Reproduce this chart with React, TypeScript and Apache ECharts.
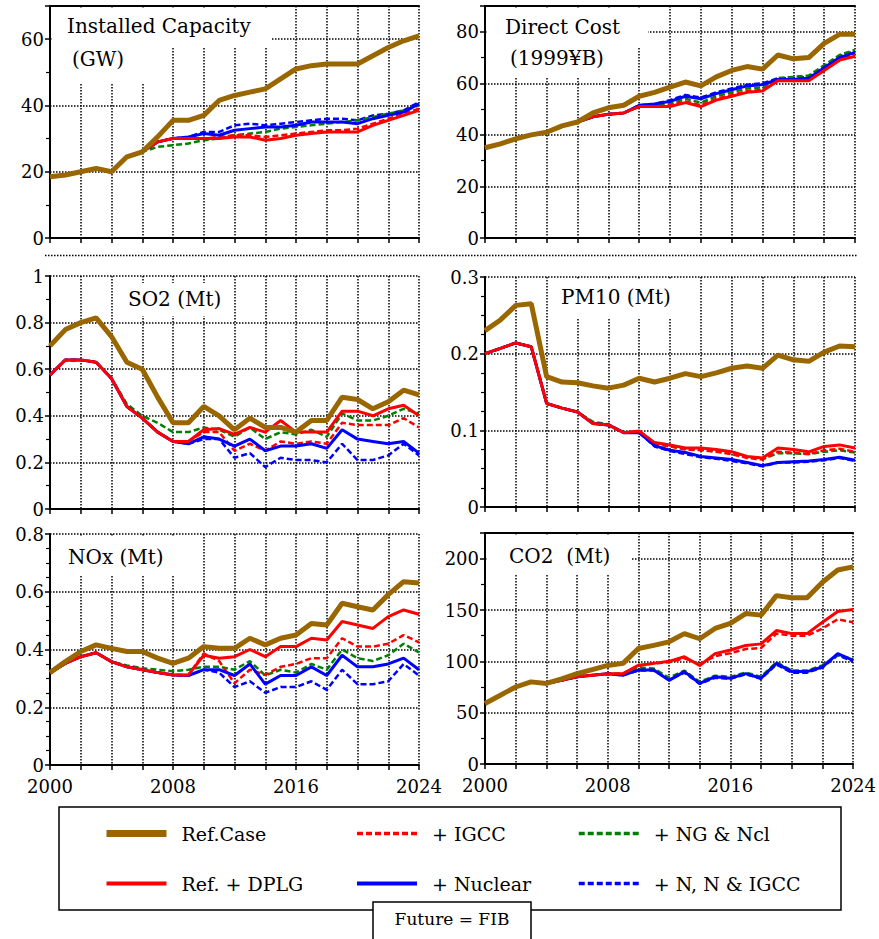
import React, { useEffect, useRef } from 'react';
import * as echarts from 'echarts';

const years = [2000, 2001, 2002, 2003, 2004, 2005, 2006, 2007, 2008, 2009, 2010, 2011, 2012, 2013, 2014, 2015, 2016, 2017, 2018, 2019, 2020, 2021, 2022, 2023, 2024];

const seriesNames = ['Ref.Case', 'Ref. + DPLG', '+ IGCC', '+ Nuclear', '+ NG & Ncl', '+ N, N & IGCC'];

// Installed Capacity (GW)
const capRef = [18.5, 19, 20, 21, 20, 24.5, 26, 30.5, 35.5, 35.5, 37, 41.5, 43, 44, 45, 48, 51, 52, 52.5, 52.5, 52.5, 55, 57.5, 59.5, 61];
const capDplg = [18.5, 19, 20, 21, 20, 24.5, 26, 29, 30, 30, 30, 30, 30.5, 30.5, 29.5, 30, 31, 31.5, 32, 32, 32, 34, 35.5, 37, 38.5];
const capIgcc = [18.5, 19, 20, 21, 20, 24.5, 26, 29, 30, 30, 30, 30.5, 31, 31, 30.5, 31, 31.5, 32, 32.5, 32.5, 33, 34.5, 36, 37.5, 39];
const capNuc = [18.5, 19, 20, 21, 20, 24.5, 26, 29, 30, 30.5, 31.5, 31, 32.5, 33, 33.5, 33.5, 34, 35, 35, 35, 34.5, 36, 37, 38, 40.5];
const capNgn = [18.5, 19, 20, 21, 20, 24.5, 26, 27.5, 28, 28.5, 29.5, 30, 31, 31.5, 32, 33, 33.5, 34, 34.5, 35, 35.5, 36.5, 37.5, 38.5, 40];
const capNni = [18.5, 19, 20, 21, 20, 24.5, 26, 29, 30, 30.5, 32, 32, 34, 34.5, 34, 34.5, 35, 35.5, 36, 36, 35.5, 37, 37.5, 38.5, 41];

// Direct Cost (1999 yen B)
const costRef = [35, 36.5, 38.5, 40, 41, 43.5, 45, 48.5, 50.5, 51.5, 55, 56.5, 58.5, 60.5, 59, 62.5, 65, 66.5, 65.5, 71, 69.5, 70, 75.5, 79, 79];
const costDplg = [35, 36.5, 38.5, 40, 41, 43.5, 45, 47, 48, 48.5, 51, 51, 51, 52.5, 51, 53.5, 55, 56.5, 57, 61, 61, 61, 65, 69, 70.5];
const costIgcc = [35, 36.5, 38.5, 40, 41, 43.5, 45, 47, 48, 48.5, 51, 51, 51.5, 53, 51.5, 54, 55.5, 57, 57.5, 61.5, 61.5, 61.5, 65.5, 69.5, 71];
const costNuc = [35, 36.5, 38.5, 40, 41, 43.5, 45, 47, 48, 48.5, 51.5, 52, 53, 55, 54, 56, 57.5, 59, 59.5, 61.5, 61.5, 62, 66, 70, 72];
const costNgn = [35, 36.5, 38.5, 40, 41, 43.5, 45, 47, 48, 48.5, 51, 51.5, 52, 54, 52.5, 55, 56.5, 58, 58.5, 62, 62.5, 63, 67, 71, 73];
const costNni = [35, 36.5, 38.5, 40, 41, 43.5, 45, 47, 48, 48.5, 51.5, 52, 53.5, 55.5, 54.5, 56.5, 58, 59.5, 60, 62, 62, 62.5, 66.5, 70.5, 72.5];

// SO2 (Mt)
const so2Ref = [0.70, 0.77, 0.80, 0.82, 0.74, 0.63, 0.60, 0.48, 0.37, 0.37, 0.44, 0.40, 0.34, 0.39, 0.35, 0.35, 0.33, 0.38, 0.38, 0.48, 0.47, 0.43, 0.46, 0.51, 0.49];
const so2Dplg = [0.575, 0.64, 0.64, 0.63, 0.56, 0.44, 0.39, 0.33, 0.29, 0.29, 0.34, 0.345, 0.32, 0.35, 0.33, 0.38, 0.33, 0.33, 0.33, 0.42, 0.42, 0.40, 0.43, 0.445, 0.40];
const so2Igcc = [0.575, 0.64, 0.64, 0.63, 0.56, 0.44, 0.39, 0.33, 0.29, 0.29, 0.33, 0.33, 0.25, 0.28, 0.25, 0.29, 0.28, 0.29, 0.28, 0.37, 0.36, 0.36, 0.36, 0.39, 0.35];
const so2Nuc = [0.575, 0.64, 0.64, 0.63, 0.56, 0.44, 0.39, 0.33, 0.29, 0.28, 0.31, 0.30, 0.27, 0.30, 0.25, 0.27, 0.27, 0.28, 0.26, 0.34, 0.30, 0.29, 0.28, 0.29, 0.24];
const so2Ngn = [0.575, 0.64, 0.64, 0.63, 0.56, 0.45, 0.40, 0.37, 0.33, 0.33, 0.35, 0.34, 0.31, 0.35, 0.30, 0.33, 0.32, 0.34, 0.31, 0.41, 0.38, 0.38, 0.40, 0.43, 0.41];
const so2Nni = [0.575, 0.64, 0.64, 0.63, 0.56, 0.44, 0.39, 0.33, 0.29, 0.28, 0.30, 0.30, 0.22, 0.24, 0.18, 0.22, 0.21, 0.21, 0.20, 0.28, 0.21, 0.21, 0.23, 0.28, 0.23];

// PM10 (Mt)
const pmRef = [0.230, 0.244, 0.263, 0.265, 0.170, 0.163, 0.162, 0.158, 0.155, 0.159, 0.168, 0.163, 0.168, 0.174, 0.170, 0.175, 0.181, 0.184, 0.181, 0.198, 0.192, 0.190, 0.202, 0.210, 0.209];
const pmDplg = [0.200, 0.207, 0.214, 0.209, 0.135, 0.129, 0.124, 0.109, 0.107, 0.097, 0.099, 0.084, 0.081, 0.077, 0.077, 0.075, 0.072, 0.066, 0.064, 0.077, 0.075, 0.072, 0.079, 0.081, 0.077];
const pmIgcc = [0.200, 0.207, 0.214, 0.209, 0.135, 0.129, 0.124, 0.109, 0.107, 0.097, 0.099, 0.083, 0.079, 0.075, 0.074, 0.072, 0.069, 0.064, 0.062, 0.072, 0.071, 0.069, 0.074, 0.076, 0.072];
const pmNuc = [0.200, 0.207, 0.214, 0.209, 0.135, 0.129, 0.124, 0.109, 0.107, 0.097, 0.097, 0.080, 0.074, 0.071, 0.066, 0.064, 0.062, 0.058, 0.054, 0.058, 0.059, 0.060, 0.062, 0.065, 0.061];
const pmNgn = [0.200, 0.207, 0.214, 0.209, 0.135, 0.129, 0.124, 0.111, 0.108, 0.097, 0.099, 0.083, 0.079, 0.076, 0.075, 0.073, 0.070, 0.065, 0.063, 0.070, 0.070, 0.069, 0.072, 0.074, 0.071];
const pmNni = [0.200, 0.207, 0.214, 0.209, 0.135, 0.129, 0.124, 0.109, 0.107, 0.097, 0.097, 0.079, 0.073, 0.069, 0.065, 0.063, 0.060, 0.057, 0.053, 0.058, 0.058, 0.059, 0.061, 0.064, 0.060];

// NOx (Mt)
const noxRef = [0.32, 0.358, 0.393, 0.416, 0.404, 0.393, 0.393, 0.37, 0.352, 0.37, 0.41, 0.404, 0.404, 0.439, 0.416, 0.439, 0.45, 0.49, 0.485, 0.56, 0.548, 0.537, 0.59, 0.635, 0.63];
const noxDplg = [0.32, 0.352, 0.375, 0.389, 0.358, 0.34, 0.33, 0.32, 0.312, 0.312, 0.38, 0.37, 0.375, 0.40, 0.375, 0.41, 0.41, 0.439, 0.433, 0.497, 0.485, 0.473, 0.514, 0.537, 0.522];
const noxIgcc = [0.32, 0.352, 0.375, 0.389, 0.358, 0.34, 0.33, 0.32, 0.312, 0.312, 0.386, 0.36, 0.283, 0.33, 0.312, 0.34, 0.35, 0.37, 0.37, 0.439, 0.41, 0.41, 0.42, 0.45, 0.425];
const noxNuc = [0.32, 0.352, 0.375, 0.389, 0.358, 0.34, 0.33, 0.32, 0.312, 0.31, 0.33, 0.33, 0.31, 0.35, 0.28, 0.31, 0.31, 0.34, 0.31, 0.38, 0.34, 0.34, 0.35, 0.37, 0.33];
const noxNgn = [0.32, 0.352, 0.375, 0.389, 0.358, 0.345, 0.335, 0.33, 0.325, 0.33, 0.34, 0.34, 0.33, 0.36, 0.31, 0.33, 0.32, 0.35, 0.33, 0.40, 0.37, 0.36, 0.38, 0.42, 0.39];
const noxNni = [0.32, 0.352, 0.375, 0.389, 0.358, 0.34, 0.33, 0.32, 0.312, 0.31, 0.33, 0.32, 0.27, 0.29, 0.25, 0.27, 0.27, 0.29, 0.26, 0.33, 0.28, 0.28, 0.29, 0.35, 0.31];

// CO2 (Mt)
const co2Ref = [59, 67, 75, 80, 78.5, 83, 88, 92, 96, 98, 112.5, 115.5, 119, 127, 122, 132, 137, 146.5, 145, 164, 162, 162, 177, 189, 192];
const co2Dplg = [59, 67, 75, 80, 78.5, 81.5, 85, 86.5, 88, 88, 96, 98, 100, 104.5, 96, 107.5, 111, 115.5, 117, 130, 127, 127, 138, 148.5, 150.5];
const co2Igcc = [59, 67, 75, 80, 78.5, 81.5, 85, 86.5, 88, 88, 96, 98, 99, 103, 97, 105, 108, 112, 113, 127, 125, 125, 132, 141, 138];
const co2Nuc = [59, 67, 75, 80, 78.5, 81.5, 85, 86.5, 88, 86.5, 91.5, 91.5, 81.5, 90, 78.5, 85, 83.5, 88, 83.5, 98, 90, 90, 94.5, 107.5, 101];
const co2Ngn = [59, 67, 75, 80, 78.5, 81.5, 85, 86.5, 88, 88, 94, 93, 84, 91, 80, 86, 85, 89, 85, 99, 91, 91, 96, 106, 102];
const co2Nni = [59, 67, 75, 80, 78.5, 81.5, 85, 86.5, 88, 86.5, 91, 91, 82, 89, 78, 84, 83, 87.5, 83, 97, 89, 89, 94, 106, 100];

const panelTitles = [
  ['Installed Capacity', '(GW)'],
  ['Direct Cost', '(1999¥B)'],
  ['SO2 (Mt)'],
  ['PM10 (Mt)'],
  ['NOx (Mt)'],
  ['CO2  (Mt)'],
];
const panelMax = [70, 90, 1, 0.3, 0.8, 225];
const panelInterval = [20, 20, 0.2, 0.1, 0.2, 50];
const panelData = [
  [capRef, capDplg, capIgcc, capNuc, capNgn, capNni],
  [costRef, costDplg, costIgcc, costNuc, costNgn, costNni],
  [so2Ref, so2Dplg, so2Igcc, so2Nuc, so2Ngn, so2Nni],
  [pmRef, pmDplg, pmIgcc, pmNuc, pmNgn, pmNni],
  [noxRef, noxDplg, noxIgcc, noxNuc, noxNgn, noxNni],
  [co2Ref, co2Dplg, co2Igcc, co2Nuc, co2Ngn, co2Nni],
];

// ---- layout / style (not data) ----
const FONT = 'DejaVu Serif';
const grids = [
  { left: 50, top: 6, width: 369, height: 232 },
  { left: 485, top: 6, width: 370, height: 232 },
  { left: 50, top: 276, width: 369, height: 233 },
  { left: 485, top: 277, width: 370, height: 230 },
  { left: 50, top: 534, width: 369, height: 231 },
  { left: 485, top: 533, width: 370, height: 231 },
];
const minorSplits = [2, 2, 2, 4, 4, 2];
const topBorder = [true, true, false, false, false, true];
const styles: Record<string, { color: string; width: number; legendWidth: number; type: any }> = {
  'Ref.Case': { color: '#996600', width: 5, legendWidth: 7, type: 'solid' },
  'Ref. + DPLG': { color: '#ff0000', width: 3, legendWidth: 4, type: 'solid' },
  '+ IGCC': { color: '#ff0000', width: 2.5, legendWidth: 3.5, type: [6, 3] },
  '+ Nuclear': { color: '#0000ff', width: 3, legendWidth: 4, type: 'solid' },
  '+ NG & Ncl': { color: '#008000', width: 2.5, legendWidth: 3.5, type: [6, 3] },
  '+ N, N & IGCC': { color: '#0000ff', width: 2.5, legendWidth: 3.5, type: [6, 3] },
};
const drawOrder = [5, 4, 2, 3, 1, 0];
const titlePos = [
  [[67, 26], [72, 59]],
  [[505, 27], [510, 58]],
  [[128, 299]],
  [[561, 297]],
  [[68, 557]],
  [[509, 556]],
];
const masks = [
  [52, 8, 220, 39], [52, 47, 98, 36],
  [487, 8, 161, 39], [487, 47, 138, 31],
  [120, 283, 112, 33],
  [553, 280, 132, 38],
  [52, 537, 138, 38],
  [487, 536, 145, 39],
];

const gridLine = { color: '#000', width: 1.5, type: [1.5, 1.5] as any };

function fmtY(interval: number) {
  return (v: number) => {
    const r = v / interval;
    if (Math.abs(r - Math.round(r)) > 1e-6) return '';
    return String(parseFloat(v.toFixed(3)));
  };
}

export default function App() {
  const ref = useRef<HTMLDivElement>(null);
  useEffect(() => {
    if (!ref.current) return;
    const chart = echarts.init(ref.current, null, { renderer: 'svg' });
    const xAxis: any[] = [];
    const yAxis: any[] = [];
    const series: any[] = [];
    grids.forEach((g, i) => {
      const bottomRow = i >= 4;
      xAxis.push({
        type: 'value', gridIndex: i, min: 2000, max: 2024, interval: 2,
        axisLine: { show: true, onZero: false, lineStyle: { color: '#000', width: 2 } },
        axisTick: { show: true, length: 5, lineStyle: { color: '#000', width: 1.5 } },
        axisLabel: {
          show: bottomRow, margin: 12, color: '#000', fontFamily: FONT, fontSize: 18,
          formatter: (v: number) => ((v - 2000) % 8 === 0 ? String(v) : ''),
        },
        splitLine: { show: true, lineStyle: gridLine },
      });
      yAxis.push({
        type: 'value', gridIndex: i, min: 0, max: panelMax[i], interval: panelInterval[i],
        axisLine: { show: true, onZero: false, lineStyle: { color: '#000', width: 2 } },
        axisTick: { show: true, length: 5, lineStyle: { color: '#000', width: 1.5 } },
        minorTick: { show: true, splitNumber: minorSplits[i], length: 4, lineStyle: { color: '#000', width: 1.2 } },
        axisLabel: { margin: 6, color: '#000', fontFamily: FONT, fontSize: 18, formatter: fmtY(panelInterval[i]) },
        splitLine: { show: true, lineStyle: gridLine },
      });
      drawOrder.forEach((k, order) => {
        const name = seriesNames[k];
        const st = styles[name];
        series.push({
          type: 'line', name, xAxisIndex: i, yAxisIndex: i,
          data: years.map((y, j) => [y, panelData[i][k][j]]),
          symbol: 'none', color: st.color,
          lineStyle: { color: st.color, width: st.width, type: st.type, cap: 'butt' },
          z: 2 + order * 0.01,
        });
      });
    });
    grids.forEach((g, i) => {
      if (topBorder[i]) {
        xAxis.push({
          type: 'value', gridIndex: i, position: 'top', min: 2000, max: 2024,
          axisLine: { show: true, onZero: false, lineStyle: { color: '#000', width: 2 } },
          axisTick: { show: false }, axisLabel: { show: false }, splitLine: { show: false },
        });
      }
    });

    const graphic: any[] = [];
    graphic.push({
      type: 'line', z: 1, shape: { x1: 45, y1: 255.5, x2: 858, y2: 255.5 },
      style: { stroke: '#000', lineWidth: 1.5, lineDash: [1.5, 1.5] },
    });
    masks.forEach((m) => {
      graphic.push({ type: 'rect', z: 1, shape: { x: m[0], y: m[1], width: m[2], height: m[3] }, style: { fill: '#fff' } });
    });
    panelTitles.forEach((lines, i) => {
      lines.forEach((t, j) => {
        const p = titlePos[i][j];
        graphic.push({
          type: 'text', z: 1.5, x: p[0], y: p[1],
          style: { text: t, fill: '#000', fontSize: 20, fontFamily: FONT, align: 'left', verticalAlign: 'middle' },
        });
      });
    });
    graphic.push({ type: 'rect', z: 5, shape: { x: 59, y: 807, width: 782, height: 103 }, style: { fill: 'none', stroke: '#000', lineWidth: 1.5 } });
    graphic.push({ type: 'rect', z: 6, shape: { x: 373, y: 902, width: 158, height: 50 }, style: { fill: '#fff', stroke: '#000', lineWidth: 1.5 } });
    graphic.push({
      type: 'text', z: 7, x: 452, y: 919,
      style: { text: 'Future = FIB', fill: '#000', fontSize: 17, fontFamily: FONT, align: 'center', verticalAlign: 'middle' },
    });

    const legendBase = {
      orient: 'vertical', itemWidth: 60, itemHeight: 14, itemGap: 31, top: 819, selectedMode: false,
      itemStyle: { opacity: 0 },
      textStyle: { color: '#000', fontFamily: FONT, fontSize: 19, padding: [0, 0, 0, 10] },
    };
    const legendItem = (name: string) => ({
      name,
      itemStyle: { opacity: 0 },
      lineStyle: { width: styles[name].legendWidth, color: styles[name].color, type: styles[name].type },
    });
    const legend = [
      { ...legendBase, left: 98, data: ['Ref.Case', 'Ref. + DPLG'].map(legendItem) },
      { ...legendBase, left: 350, data: ['+ IGCC', '+ Nuclear'].map(legendItem) },
      { ...legendBase, left: 572, data: ['+ NG & Ncl', '+ N, N & IGCC'].map(legendItem) },
    ];

    chart.setOption({
      animation: false,
      backgroundColor: '#fff',
      grid: grids.map((g) => ({ ...g, containLabel: false })),
      xAxis, yAxis, series, graphic, legend,
    });
    return () => chart.dispose();
  }, []);
  return <div ref={ref} style={{ position: 'absolute', left: 0, top: 0, width: 879, height: 939 }} />;
}
